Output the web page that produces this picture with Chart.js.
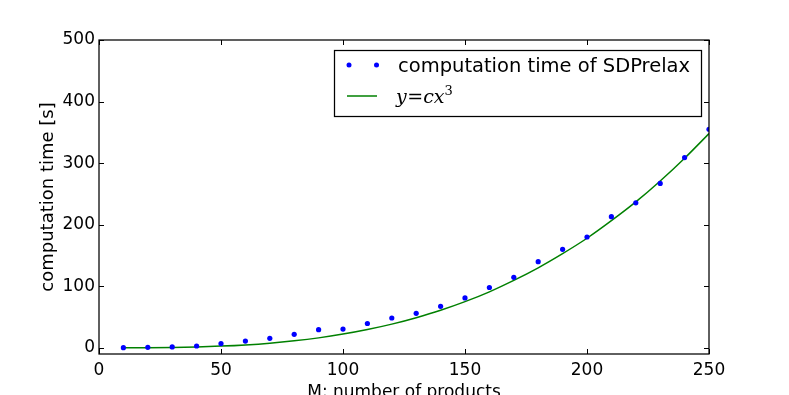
<!DOCTYPE html>
<html>
<head>
<meta charset="utf-8">
<script src="https://cdn.jsdelivr.net/npm/chart.js@4"></script>
<style>
    html, body { margin: 0; padding: 0; background: #fff; }
    #wrap { width: 789px; height: 395px; position: relative; }
</style>
</head>
<body>
<div id="wrap"><canvas id="timeChart"></canvas></div>
<script>
// Data
const products = [10, 20, 30, 40, 50, 60, 70, 80, 90, 100, 110, 120, 130, 140, 150, 160, 170, 180, 190, 200, 210, 220, 230, 240, 250];
const sdpTimes = [0.3, 0.8, 1.5, 3, 7, 11, 15.5, 22, 29.5, 30.5, 39.5, 48.5, 56, 67.5, 81, 98, 114.5, 140, 160, 180, 213, 235.5, 267, 309, 355];
const cubicFit = [0.02, 0.2, 0.6, 1.4, 2.8, 4.8, 7.6, 11.4, 16.2, 22.3, 29.7, 38.5, 49, 61, 75, 91, 109.5, 130, 153, 178, 206.5, 237, 271, 308, 348];
const xTickValues = [0, 50, 100, 150, 200, 250];
const yTickValues = [0, 100, 200, 300, 400, 500];

const tickFont = { family: "DejaVu Sans", size: 17 };

// Frame, inward ticks and the legend box, matplotlib style
const framePlugin = {
    id: 'frame',
    afterDraw(chart) {
        const { ctx, chartArea: a, scales } = chart;
        ctx.save();
        ctx.strokeStyle = '#000';
        ctx.lineWidth = 1.25;
        ctx.strokeRect(a.left, a.top, a.right - a.left, a.bottom - a.top);

        const len = 5;
        ctx.lineWidth = 1;
        ctx.beginPath();
        scales.x.ticks.forEach(function (t) {
            const px = Math.round(scales.x.getPixelForValue(t.value)) + 0.5;
            ctx.moveTo(px, a.bottom); ctx.lineTo(px, a.bottom - len);
            ctx.moveTo(px, a.top); ctx.lineTo(px, a.top + len);
        });
        scales.y.ticks.forEach(function (t) {
            const py = Math.round(scales.y.getPixelForValue(t.value)) + 0.5;
            ctx.moveTo(a.left, py); ctx.lineTo(a.left + len, py);
            ctx.moveTo(a.right, py); ctx.lineTo(a.right - len, py);
        });
        ctx.stroke();

        // legend
        const ds = chart.data.datasets;
        const bx = 334.5, by = 50.5, bw = 367, bh = 66;
        ctx.fillStyle = '#fff';
        ctx.fillRect(bx, by, bw, bh);
        ctx.strokeStyle = '#000';
        ctx.lineWidth = 1.25;
        ctx.strokeRect(bx, by, bw, bh);

        ctx.fillStyle = ds[0].backgroundColor;
        [349, 376.5].forEach(function (cx) {
            ctx.beginPath();
            ctx.arc(cx, 65, 2.5, 0, Math.PI * 2);
            ctx.fill();
        });
        ctx.fillStyle = '#000';
        ctx.font = '19.5px "DejaVu Sans"';
        ctx.textBaseline = 'alphabetic';
        ctx.textAlign = 'left';
        ctx.fillText(ds[0].label, 398, 72);

        ctx.strokeStyle = ds[1].borderColor;
        ctx.lineWidth = 1.5;
        ctx.beginPath();
        ctx.moveTo(347, 96); ctx.lineTo(377, 96);
        ctx.stroke();

        // y = c x^3
        let x = 396;
        const base = 103;
        ctx.fillStyle = '#000';
        ctx.font = 'italic 19px "DejaVu Serif"';
        ctx.fillText('y', x, base); x += ctx.measureText('y').width + 0.5;
        ctx.font = '19px "DejaVu Serif"';
        ctx.fillText('=', x, base); x += ctx.measureText('=').width;
        ctx.font = 'italic 19px "DejaVu Serif"';
        ctx.fillText('cx', x, base); x += ctx.measureText('cx').width;
        ctx.font = '13px "DejaVu Serif"';
        ctx.fillText('3', x, base - 8);
        ctx.restore();
    }
};

const ctxEl = document.getElementById('timeChart');

new Chart(ctxEl, {
    data: {
        datasets: [{
            type: 'scatter',
            label: 'computation time of SDPrelax',
            data: products.map((m, i) => ({ x: m, y: sdpTimes[i] })),
            backgroundColor: '#0000ff',
            borderColor: '#0000ff',
            pointRadius: 2.6,
            pointBorderWidth: 0,
            clip: 0,
            order: 1
        }, {
            type: 'line',
            label: 'y=cx^3',
            data: products.map((m, i) => ({ x: m, y: cubicFit[i] })),
            borderColor: '#008000',
            borderWidth: 1.5,
            pointRadius: 0,
            cubicInterpolationMode: 'monotone',
            fill: false,
            clip: 0,
            order: 2
        }]
    },
    options: {
        responsive: true,
        maintainAspectRatio: false,
        animation: false,
        events: [],
        layout: { padding: { left: 0, right: 80, top: 40, bottom: 0 } },
        plugins: {
            legend: { display: false },
            tooltip: { enabled: false }
        },
        scales: {
            x: {
                type: 'linear',
                min: 0,
                max: 250,
                afterBuildTicks: function (scale) {
                    scale.ticks = xTickValues.map(v => ({ value: v }));
                },
                afterFit: function (scale) { scale.height = 41; },
                grid: { display: false, drawTicks: false },
                border: { display: false },
                ticks: { color: '#000', font: tickFont, padding: 6, maxRotation: 0 },
                title: {
                    display: true,
                    text: 'M: number of products',
                    color: '#000',
                    font: { family: "DejaVu Sans", size: 17 },
                    padding: { top: 0, bottom: -8 }
                }
            },
            y: {
                type: 'linear',
                min: -10,
                max: 500,
                afterBuildTicks: function (scale) {
                    scale.ticks = yTickValues.map(v => ({ value: v }));
                },
                afterFit: function (scale) { scale.width = 99; },
                grid: { display: false, drawTicks: false },
                border: { display: false },
                ticks: { color: '#000', font: tickFont, padding: 4 },
                title: {
                    display: true,
                    text: 'computation time [s]',
                    color: '#000',
                    font: { family: "DejaVu Sans", size: 18 },
                    padding: { top: 38, bottom: 0 }
                }
            }
        }
    },
    plugins: [framePlugin]
});
</script>
</body>
</html>
